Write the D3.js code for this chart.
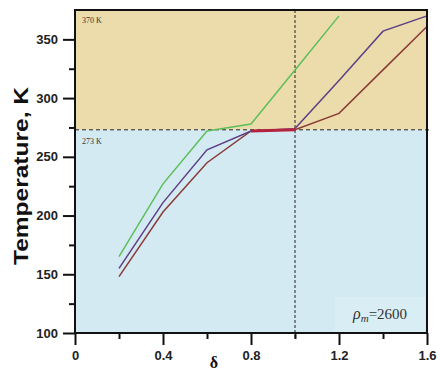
<!DOCTYPE html>
<html>
<head>
<meta charset="utf-8">
<script src="https://cdn.jsdelivr.net/npm/d3@7"></script>
<style>
  body { margin: 0; background: #fff; }
  .tick text { font-family: "Liberation Sans", Arial, sans-serif; font-weight: bold; font-size: 13px; fill: #222; }
  .tick line { stroke: #111; stroke-width: 2; }
</style>
</head>
<body>
<div id="chart"></div>
<script>
// data
var deltaVals = [0.2, 0.4, 0.6, 0.8, 1.0, 1.2, 1.4, 1.6];
var greenT  = [165, 227, 272, 278, 324, 370];
var purpleT = [155, 211, 256, 272, 274, 315, 357, 370];
var redT    = [148, 203, 245, 272, 273, 287, 324, 361];

var xTicks = [0, 0.4, 0.8, 1.2, 1.6],
    xMinor = [0.2, 0.6, 1.0, 1.4],
    yTicks = [100, 150, 200, 250, 300, 350],
    yMinor = [125, 175, 225, 275, 325];

var meltT = 273, boilT = 370;

var svgWidth = 440, svgHeight = 374;
var margin = { top: 10, right: 13, bottom: 41, left: 75 };
var width = svgWidth - margin.left - margin.right,
    height = svgHeight - margin.top - margin.bottom;

var svg = d3.select('#chart').append('svg')
    .attr('width', svgWidth)
    .attr('height', svgHeight);

var chartGroup = svg.append('g')
    .attr('transform', `translate(${margin.left},${margin.top})`);

var xScale = d3.scaleLinear().domain([0, 1.6]).range([0, width]);
var yScale = d3.scaleLinear().domain([100, 375]).range([height, 0]);

// background bands
chartGroup.append('rect')
    .attr('x', 0).attr('y', 0)
    .attr('width', width).attr('height', yScale(meltT))
    .attr('fill', '#ecdcab');
chartGroup.append('rect')
    .attr('x', 0).attr('y', yScale(meltT))
    .attr('width', width).attr('height', height - yScale(meltT))
    .attr('fill', '#d4eaf2');

// legend box bottom right
chartGroup.append('rect')
    .attr('x', width - 92).attr('y', height - 36)
    .attr('width', 90).attr('height', 35)
    .attr('fill', '#d9edf4');

var rhoText = chartGroup.append('text')
    .attr('x', width - 74).attr('y', height - 14)
    .attr('font-family', '"Liberation Serif", serif')
    .attr('font-size', 16)
    .attr('fill', '#333');
rhoText.append('tspan').attr('font-style', 'italic').text('ρ');
rhoText.append('tspan').attr('font-style', 'italic').attr('font-size', 11).attr('dy', 3).text('m');
rhoText.append('tspan').attr('dy', -3).attr('font-size', 15).text('=2600');

// reference lines
chartGroup.append('line')
    .attr('x1', 0).attr('x2', width + 3)
    .attr('y1', yScale(meltT)).attr('y2', yScale(meltT))
    .attr('stroke', '#222').attr('stroke-width', 1)
    .attr('stroke-dasharray', '4,3');
chartGroup.append('line')
    .attr('x1', xScale(1.0)).attr('x2', xScale(1.0))
    .attr('y1', 0).attr('y2', height + 6)
    .attr('stroke', '#222').attr('stroke-width', 1)
    .attr('stroke-dasharray', '3,2');

chartGroup.append('text')
    .attr('x', 7).attr('y', 13)
    .attr('font-family', '"Liberation Serif", serif')
    .attr('font-size', 8).attr('fill', '#333')
    .text(boilT + ' K');
chartGroup.append('text')
    .attr('x', 7).attr('y', yScale(meltT) + 14)
    .attr('font-family', '"Liberation Serif", serif')
    .attr('font-size', 8).attr('fill', '#333')
    .text(meltT + ' K');

// curves
var line = d3.line()
    .x(d => xScale(d[0]))
    .y(d => yScale(d[1]));

var series = [
    { vals: greenT, color: '#5cbf5a' },
    { vals: redT, color: '#8a3b38' },
    { vals: purpleT, color: '#5d3f85' }
];

series.forEach(s => {
    var pts = s.vals.map((v, i) => [deltaVals[i], v]);
    chartGroup.append('path')
        .datum(pts)
        .attr('fill', 'none')
        .attr('stroke', s.color)
        .attr('stroke-width', 1.5)
        .attr('d', line);
});

// overlapping part of the two lower curves
var overlap = redT.map((v, i) => [deltaVals[i], v]).filter(d => d[0] >= 0.8 && d[0] <= 1.0);
chartGroup.append('path')
    .datum(overlap)
    .attr('fill', 'none')
    .attr('stroke', '#b3233f')
    .attr('stroke-width', 3)
    .attr('d', line);

// frame
chartGroup.append('rect')
    .attr('x', 0).attr('y', 0)
    .attr('width', width).attr('height', height)
    .attr('fill', 'none')
    .attr('stroke', '#111').attr('stroke-width', 2);

// axes
var xAxis = chartGroup.append('g')
    .attr('transform', `translate(0,${height})`)
    .call(d3.axisBottom(xScale).tickValues(xTicks).tickSize(12).tickPadding(6)
        .tickFormat(d => d === 0 ? '0' : d3.format('.1f')(d)));
xAxis.select('.domain').remove();

var xMinorAxis = chartGroup.append('g')
    .attr('transform', `translate(0,${height})`)
    .call(d3.axisBottom(xScale).tickValues(xMinor).tickSize(6).tickFormat(''));
xMinorAxis.select('.domain').remove();

var yAxis = chartGroup.append('g')
    .call(d3.axisLeft(yScale).tickValues(yTicks).tickSize(12).tickPadding(5));
yAxis.select('.domain').remove();

var yMinorAxis = chartGroup.append('g')
    .call(d3.axisLeft(yScale).tickValues(yMinor).tickSize(6).tickFormat(''));
yMinorAxis.select('.domain').remove();

// axis titles
svg.append('text')
    .attr('transform', 'translate(28,176)rotate(-90)')
    .attr('text-anchor', 'middle')
    .attr('font-family', '"Liberation Sans", Arial, sans-serif')
    .attr('font-weight', 'bold')
    .attr('font-size', 20)
    .attr('textLength', 178)
    .attr('lengthAdjust', 'spacingAndGlyphs')
    .attr('fill', '#111')
    .text('Temperature, K');

svg.append('text')
    .attr('x', 214).attr('y', 368)
    .attr('text-anchor', 'middle')
    .attr('font-family', '"Liberation Serif", serif')
    .attr('font-weight', 'bold')
    .attr('font-size', 16)
    .attr('fill', '#111')
    .text('δ');
</script>
</body>
</html>
